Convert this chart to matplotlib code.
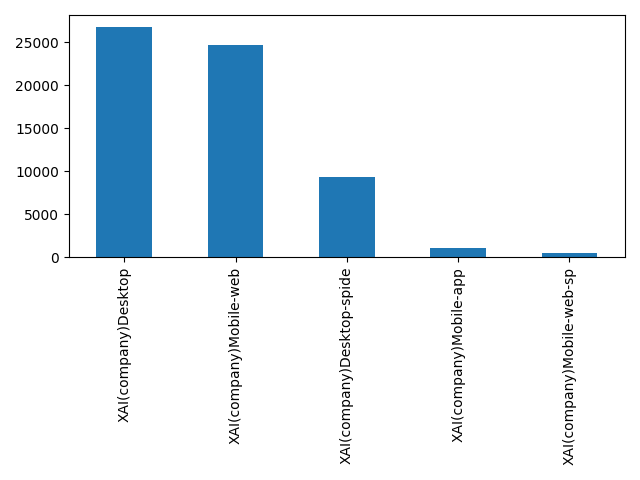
import matplotlib
matplotlib.use("Agg")
import matplotlib.pyplot as plt

categories = ["XAI(company)Desktop", "XAI(company)Mobile-web", "XAI(company)Desktop-spide",
              "XAI(company)Mobile-app", "XAI(company)Mobile-web-sp"]
values = [26800, 24600, 9300, 1100, 450]

fig, ax = plt.subplots(figsize=(6.4, 4.8), dpi=100)
x = range(len(categories))
ax.bar(x, values, width=0.5, color="#1f77b4")
ax.set_xticks(list(x))
ax.set_xticklabels(categories, rotation=90)
ax.set_xlim(-0.5, len(categories) - 0.5)
fig.tight_layout()
fig.savefig("out.png")
